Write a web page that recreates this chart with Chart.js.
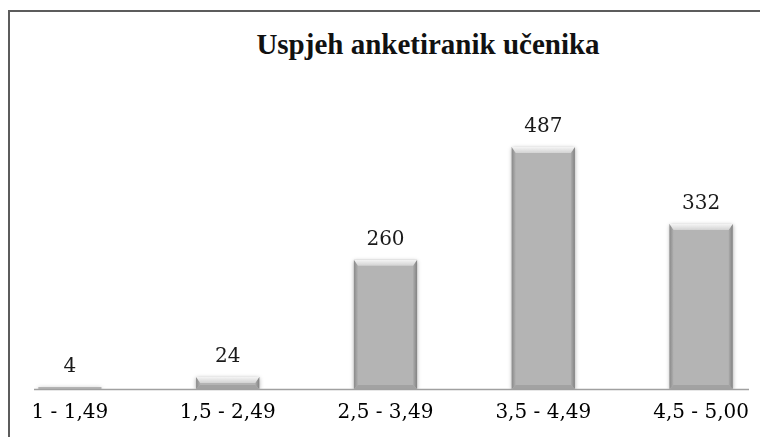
<!DOCTYPE html>
<html>
<head>
<meta charset="utf-8">
<script src="https://cdn.jsdelivr.net/npm/chart.js@4"></script>
<style>
  html, body { margin: 0; padding: 0; background: #fff; overflow: hidden; }
  body { width: 760px; height: 437px; position: relative; }
  #frame {
    position: absolute; left: 8px; top: 10px; width: 800px; height: 500px;
    border-left: 2px solid #5c5c5c; border-top: 2px solid #5c5c5c;
  }
  #title {
    position: absolute; left: 228px; width: 400px; top: 28px; text-align: center;
    font-family: "Liberation Serif", serif; font-weight: bold; font-size: 29px; color: #111;
  }
  #wrap { position: absolute; left: -9px; top: 0; width: 789px; height: 437px; }
</style>
</head>
<body>
<div id="frame"></div>
<div id="title">Uspjeh anketiranik učenika</div>
<div id="wrap"><canvas id="chart"></canvas></div>
<script>
const categories = ["1 - 1,49", "1,5 - 2,49", "2,5 - 3,49", "3,5 - 4,49", "4,5 - 5,00"];
const students = [4, 24, 260, 487, 332];
const yMax = 600;

// bevelled grey bars + value labels above them
const bevelBars = {
  id: "bevelBars",
  beforeDatasetsDraw(chart) {
    // soft shadow under the bars
    chart.ctx.save();
    chart.ctx.shadowColor = "rgba(0,0,0,0.35)";
    chart.ctx.shadowBlur = 4;
    chart.ctx.shadowOffsetY = 1;
  },
  afterDatasetsDraw(chart) {
    const ctx = chart.ctx;
    ctx.restore();
    const meta = chart.getDatasetMeta(0);
    meta.data.forEach((bar, i) => {
      const l = bar.x - bar.width / 2;
      const r = bar.x + bar.width / 2;
      const t = bar.y;
      const b = bar.base;
      const h = b - t;
      const bv = Math.min(6, h / 2);
      const sv = Math.min(4, h / 2);
      ctx.save();
      if (h > 3) {
        // left / right edges
        let g = ctx.createLinearGradient(l, 0, l + sv, 0);
        g.addColorStop(0, "#8a8a8a");
        g.addColorStop(1, "#b0b0b0");
        ctx.fillStyle = g;
        ctx.beginPath();
        ctx.moveTo(l, t); ctx.lineTo(l + sv, t + bv); ctx.lineTo(l + sv, b - sv); ctx.lineTo(l, b);
        ctx.closePath(); ctx.fill();
        g = ctx.createLinearGradient(r, 0, r - sv, 0);
        g.addColorStop(0, "#828282");
        g.addColorStop(1, "#acacac");
        ctx.fillStyle = g;
        ctx.beginPath();
        ctx.moveTo(r, t); ctx.lineTo(r - sv, t + bv); ctx.lineTo(r - sv, b - sv); ctx.lineTo(r, b);
        ctx.closePath(); ctx.fill();
        // bottom
        ctx.fillStyle = "#a2a2a2";
        ctx.beginPath();
        ctx.moveTo(l, b); ctx.lineTo(r, b); ctx.lineTo(r - sv, b - sv); ctx.lineTo(l + sv, b - sv);
        ctx.closePath(); ctx.fill();
        // top
        g = ctx.createLinearGradient(0, t, 0, t + bv);
        g.addColorStop(0, "#f4f4f4");
        g.addColorStop(1, "#d2d2d2");
        ctx.fillStyle = g;
        ctx.beginPath();
        ctx.moveTo(l, t); ctx.lineTo(r, t); ctx.lineTo(r - sv, t + bv); ctx.lineTo(l + sv, t + bv);
        ctx.closePath(); ctx.fill();
      }
      ctx.fillStyle = "#1a1a1a";
      ctx.font = "20px 'DejaVu Serif'";
      ctx.textAlign = "center";
      ctx.textBaseline = "alphabetic";
      ctx.fillText(String(students[i]), bar.x, t - 15);
      ctx.restore();
    });
    // baseline (only the visible part of it)
    const a = chart.chartArea;
    ctx.save();
    ctx.strokeStyle = "#a0a0a0";
    ctx.lineWidth = 1.5;
    ctx.beginPath();
    ctx.moveTo(a.left + 43, a.bottom + 0.5);
    ctx.lineTo(a.right - 31, a.bottom + 0.5);
    ctx.stroke();
    ctx.restore();
  }
};

new Chart(document.getElementById("chart"), {
  type: "bar",
  data: {
    labels: categories,
    datasets: [{
      data: students,
      backgroundColor: "#b4b4b4",
      barPercentage: 0.4,
      categoryPercentage: 1.0,
    }],
  },
  options: {
    responsive: true,
    maintainAspectRatio: false,
    animation: false,
    layout: { padding: { top: 91, bottom: 0, left: 0, right: 0 } },
    plugins: {
      legend: { display: false },
      tooltip: { enabled: false },
    },
    scales: {
      x: {
        offset: true,
        grid: { display: false, drawTicks: false },
        border: { display: false },
        ticks: {
          padding: 12,
          color: "#000",
          font: { family: "DejaVu Serif", size: 20 },
          maxRotation: 0,
          autoSkip: false,
        },
      },
      y: { display: false, min: 0, max: yMax },
    },
  },
  plugins: [bevelBars],
});
</script>
</body>
</html>
